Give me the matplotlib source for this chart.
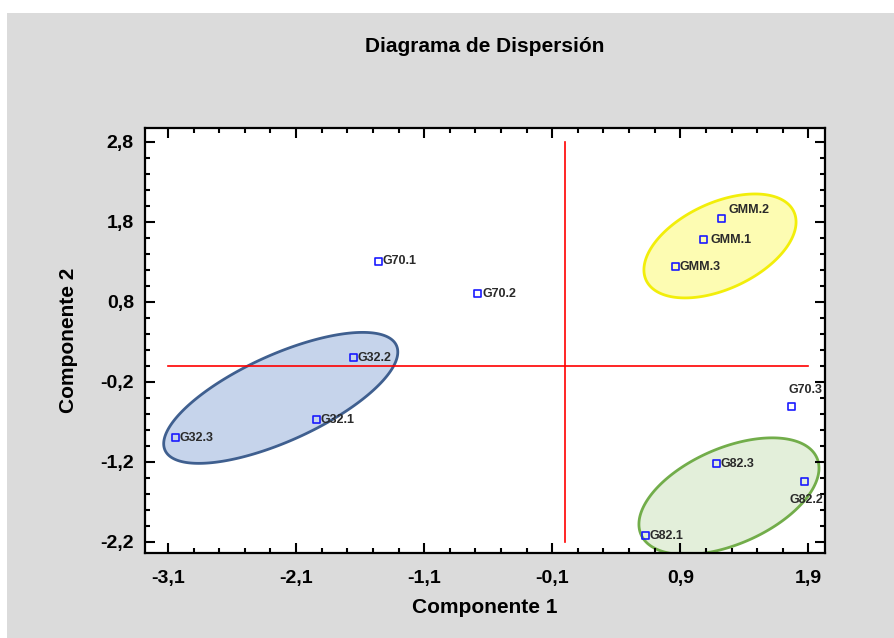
import numpy as np
import matplotlib
matplotlib.use("Agg")
import matplotlib.pyplot as plt
from matplotlib.patches import Rectangle, Polygon
from matplotlib.ticker import FixedLocator, AutoMinorLocator, FuncFormatter

plt.rcParams['font.family'] = ['Liberation Sans Narrow', 'Liberation Sans', 'DejaVu Sans']

# Scores on the first two components
labels = ["G70.1", "G70.2", "G32.2", "G32.1", "G32.3",
          "GMM.2", "GMM.1", "GMM.3", "G70.3", "G82.3", "G82.2", "G82.1"]
comp1 = [-1.46, -0.68, -1.655, -1.94, -3.04, 1.22, 1.08, 0.86, 1.77, 1.18, 1.87, 0.63]
comp2 = [1.31, 0.90, 0.10, -0.675, -0.90, 1.84, 1.575, 1.24, -0.51, -1.225, -1.45, -2.125]

# Group ellipses: centre x, centre y, half-width, half-height, correlation
ell_cx = [-2.22, 1.21, 1.28]
ell_cy = [-0.40, 1.50, -1.63]
ell_hx = [0.914, 0.594, 0.703]
ell_hy = [0.819, 0.650, 0.730]
ell_rho = [0.70, 0.46, 0.48]
ell_face = ["#c6d4eb", "#fdfcb2", "#e3efda"]
ell_edge = ["#3f5f8f", "#f2ee0a", "#72ad4a"]

xticks = [-3.1, -2.1, -1.1, -0.1, 0.9, 1.9]
yticks = [-2.2, -1.2, -0.2, 0.8, 1.8, 2.8]

# label placement (offset in points, ha, va)
label_pos = {
    "GMM.2": (5, 6, "left", "center"),
    "GMM.1": (5, 0, "left", "center"),
    "G70.3": (-2, 12, "left", "center"),
    "G82.2": (1, -13, "center", "center"),
}

fig = plt.figure(figsize=(8.94, 6.38), dpi=100, facecolor="white")
fig.patches.append(Rectangle((7 / 894, 0), 1 - 7 / 894, 1 - 13 / 638,
                             transform=fig.transFigure, facecolor="#dbdbdb",
                             edgecolor="none", zorder=-10))

ax = fig.add_axes([145 / 894, 1 - 553 / 638, 680 / 894, 425 / 638])
ax.set_facecolor("white")
ax.set_xlim(-3.28, 2.03)
ax.set_ylim(-2.34, 2.975)

t = np.linspace(0, 2 * np.pi, 300)
for cx, cy, hx, hy, r, fc, ec in zip(ell_cx, ell_cy, ell_hx, ell_hy, ell_rho,
                                     ell_face, ell_edge):
    ex = cx + hx * np.cos(t)
    ey = cy + hy * (r * np.cos(t) + np.sqrt(1 - r ** 2) * np.sin(t))
    ax.add_patch(Polygon(np.column_stack([ex, ey]), closed=True,
                         facecolor=fc, edgecolor=ec, lw=2.0, zorder=1))

ax.plot([xticks[0], xticks[-1]], [0, 0], color="red", lw=1.2, zorder=2)
ax.plot([0, 0], [yticks[0], yticks[-1]], color="red", lw=1.2, zorder=2)

ax.scatter(comp1, comp2, marker="s", s=26, facecolors="none",
           edgecolors="#1a1aff", linewidths=1.2, zorder=3)

for lab, x, y in zip(labels, comp1, comp2):
    dx, dy, ha, va = label_pos.get(lab, (3, 0, "left", "center"))
    ax.annotate(lab, (x, y), xytext=(dx, dy), textcoords="offset points",
                ha=ha, va=va, fontsize=9, fontweight="bold", color="#2a2a2a",
                zorder=4)

ax.xaxis.set_major_locator(FixedLocator(xticks))
ax.yaxis.set_major_locator(FixedLocator(yticks))
ax.xaxis.set_minor_locator(AutoMinorLocator(5))
ax.yaxis.set_minor_locator(AutoMinorLocator(5))
fmt = FuncFormatter(lambda v, p: f"{v:.1f}".replace(".", ","))
ax.xaxis.set_major_formatter(fmt)
ax.yaxis.set_major_formatter(fmt)
ax.tick_params(which="both", direction="in", top=True, right=True,
               width=1.5, color="black")
ax.tick_params(which="major", length=7, labelsize=14)
ax.tick_params(axis="x", which="major", pad=12)
ax.tick_params(axis="y", which="major", pad=8)
ax.tick_params(which="minor", length=3.5)
for lbl in ax.get_xticklabels() + ax.get_yticklabels():
    lbl.set_fontweight("bold")
for s in ax.spines.values():
    s.set_linewidth(1.6)
    s.set_color("black")

ax.set_xlabel("Componente 1", fontsize=15, fontweight="bold", labelpad=8)
ax.set_ylabel("Componente 2", fontsize=15, fontweight="bold", labelpad=16)
fig.text(0.5425, 1 - 46 / 638, "Diagrama de Dispersión", ha="center",
         va="center", fontsize=15, fontweight="bold")

fig.savefig("out.png", dpi=100, facecolor=fig.get_facecolor())
